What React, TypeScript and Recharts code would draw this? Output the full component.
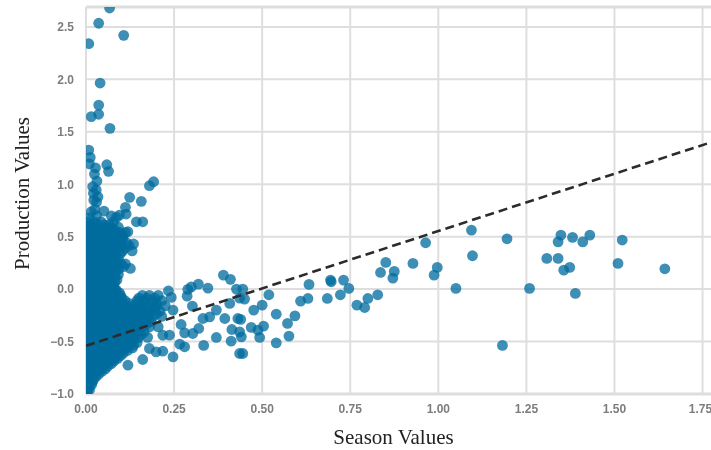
import React from "react";
import {
  CartesianGrid,
  Label,
  ReferenceLine,
  Scatter,
  ScatterChart,
  XAxis,
  YAxis,
} from "recharts";

const xTicks = [0, 0.25, 0.5, 0.75, 1, 1.25, 1.5, 1.75];
const yTicks = [-1, -0.5, 0, 0.5, 1, 1.5, 2, 2.5];
const xMax = 1.774;
const yMax = 2.69;
const xTitle = "Season Values";
const yTitle = "Production Values";

const fitLine = [
  { x: 0, y: -0.54 },
  { x: 1.774, y: 1.4 },
];

const outlierPairs: number[][] = [
  [0.067, 2.68], [0.036, 2.535], [0.107, 2.42], [0.008, 2.34], [0.04, 1.965], [0.036, 1.755],
  [0.036, 1.667], [0.015, 1.645], [0.068, 1.533], [0.008, 1.326], [0.012, 1.256], [0.01, 1.193],
  [0.027, 1.157], [0.059, 1.186], [0.064, 1.123], [0.024, 1.097], [0.031, 1.03], [0.192, 1.024],
  [0.18, 0.986], [0.019, 0.976], [0.029, 0.945], [0.021, 0.913], [0.034, 0.881], [0.124, 0.875],
  [0.157, 0.837], [0.022, 0.849], [0.03, 0.83], [0.112, 0.78], [0.015, 0.738], [0.051, 0.744],
  [0.114, 0.716], [0.072, 0.697], [0.095, 0.706], [0.086, 0.684], [0.161, 0.642], [0.143, 0.642],
  [0.025, 0.76], [0.03, 0.7], [0.01, 0.68], [0.119, 0.547], [0.135, 0.43], [0.131, 0.365], [0.126, 0.197],
];

const midPairs: number[][] = [
  [0.39, 0.134], [0.41, 0.093], [0.319, 0.048], [0.299, 0.022], [0.346, 0.01], [0.234, -0.016],
  [0.289, -0.003], [0.287, -0.067], [0.242, -0.079], [0.427, 0], [0.408, -0.136], [0.436, -0.086],
  [0.302, -0.162], [0.247, -0.2], [0.37, -0.2], [0.351, -0.264], [0.332, -0.28], [0.394, -0.28],
  [0.431, -0.28], [0.27, -0.337], [0.32, -0.375], [0.414, -0.385], [0.436, -0.407], [0.303, -0.423],
  [0.28, -0.417], [0.237, -0.439], [0.218, -0.44], [0.37, -0.461], [0.412, -0.496], [0.266, -0.525],
  [0.334, -0.537], [0.28, -0.55], [0.247, -0.646], [0.218, -0.592], [0.199, -0.598], [0.18, -0.566],
  [0.161, -0.671], [0.119, -0.725], [0.436, -0.614], [0.445, 0], [0.45, -0.095], [0.519, -0.054],
  [0.5, -0.153], [0.476, -0.2], [0.54, -0.239], [0.593, -0.255], [0.572, -0.327], [0.504, -0.353],
  [0.469, -0.365], [0.488, -0.391], [0.439, -0.289], [0.441, -0.455], [0.493, -0.461], [0.576, -0.448],
  [0.54, -0.512], [0.445, -0.614], [0.633, 0.045], [0.63, -0.089], [0.609, -0.115], [0.685, -0.089],
  [0.694, 0.086], [0.696, 0.07], [0.731, 0.086], [0.746, 0.007], [0.722, -0.054], [0.769, -0.153],
  [0.791, -0.175], [0.8, -0.089], [0.828, -0.054], [0.836, 0.159], [0.851, 0.255], [0.875, 0.169],
  [0.871, 0.105], [0.928, 0.245], [0.964, 0.442], [0.997, 0.207], [0.988, 0.134], [1.05, 0.007],
  [1.094, 0.563], [1.097, 0.318], [1.195, 0.48], [1.182, -0.537], [1.259, 0.007], [1.308, 0.293],
  [1.34, 0.293], [1.34, 0.451], [1.348, 0.515], [1.381, 0.493], [1.41, 0.451], [1.43, 0.515],
  [1.373, 0.207], [1.356, 0.181], [1.389, -0.041], [1.51, 0.245], [1.522, 0.468], [1.643, 0.194],
];

const denseRows: [number, number[]][] = [
  [0.64, [0.006, 0.024, 0.043, 0.078]],
  [0.59, [0.004, 0.02, 0.036, 0.053, 0.07, 0.092]],
  [0.54, [0.008, 0.024, 0.041, 0.06, 0.078, 0.096, 0.112]],
  [0.49, [0.003, 0.019, 0.035, 0.052, 0.07, 0.088, 0.105]],
  [0.44, [0.007, 0.025, 0.043, 0.061, 0.079, 0.097, 0.116]],
  [0.39, [0.004, 0.02, 0.036, 0.054, 0.072, 0.09, 0.11]],
  [0.34, [0.008, 0.026, 0.044, 0.062, 0.08, 0.098]],
  [0.29, [0.003, 0.019, 0.037, 0.055, 0.073, 0.092]],
  [0.24, [0.007, 0.025, 0.043, 0.061, 0.08, 0.1, 0.112]],
  [0.19, [0.004, 0.02, 0.038, 0.056, 0.074, 0.093]],
  [0.14, [0.008, 0.026, 0.044, 0.062, 0.08, 0.092]],
  [0.09, [0.003, 0.021, 0.039, 0.057, 0.075, 0.088]],
  [0.04, [0.007, 0.025, 0.043, 0.061, 0.078]],
  [-0.01, [0.004, 0.02, 0.038, 0.056, 0.074, 0.086]],
  [-0.06, [0.008, 0.026, 0.044, 0.062, 0.08, 0.098, 0.16, 0.18, 0.205]],
  [-0.11, [0.003, 0.021, 0.039, 0.057, 0.075, 0.093, 0.11, 0.145, 0.165, 0.19, 0.215]],
  [-0.16, [0.007, 0.025, 0.043, 0.061, 0.079, 0.097, 0.115, 0.133, 0.155, 0.178, 0.2, 0.225]],
  [-0.21, [0.004, 0.02, 0.038, 0.056, 0.074, 0.092, 0.11, 0.128, 0.146, 0.165, 0.185, 0.21]],
  [-0.26, [0.008, 0.026, 0.044, 0.062, 0.08, 0.098, 0.116, 0.134, 0.152, 0.17, 0.19, 0.215]],
  [-0.31, [0.003, 0.021, 0.039, 0.057, 0.075, 0.093, 0.111, 0.129, 0.147, 0.165, 0.185]],
  [-0.36, [0.007, 0.025, 0.043, 0.061, 0.079, 0.097, 0.115, 0.133, 0.151, 0.18, 0.205]],
  [-0.41, [0.004, 0.02, 0.038, 0.056, 0.074, 0.092, 0.11, 0.128, 0.146, 0.165]],
  [-0.46, [0.008, 0.026, 0.044, 0.062, 0.08, 0.098, 0.116, 0.134, 0.15, 0.175]],
  [-0.51, [0.003, 0.021, 0.039, 0.057, 0.075, 0.093, 0.111, 0.128, 0.145]],
  [-0.56, [0.007, 0.025, 0.043, 0.061, 0.079, 0.097, 0.115, 0.132]],
  [-0.61, [0.004, 0.02, 0.038, 0.056, 0.074, 0.092, 0.106]],
  [-0.66, [0.008, 0.026, 0.044, 0.062, 0.08, 0.09]],
  [-0.71, [0.003, 0.021, 0.039, 0.057, 0.072]],
  [-0.76, [0.007, 0.025, 0.043, 0.055]],
  [-0.81, [0.004, 0.02, 0.036]],
  [-0.86, [0.006, 0.022]],
  [-0.91, [0.003, 0.016]],
  [-0.96, [0.005, 0.01]],
  [-0.99, [0.002]],
];

const fillRows: [number, number[]][] = [
  [0.615, [0.014, 0.033, 0.051, 0.066]],
  [0.565, [0.012, 0.028, 0.045, 0.062, 0.081]],
  [0.515, [0.012, 0.03, 0.05, 0.069, 0.087, 0.104]],
  [0.465, [0.013, 0.03, 0.047, 0.066, 0.084, 0.102]],
  [0.415, [0.012, 0.029, 0.047, 0.063, 0.082, 0.1, 0.122]],
  [0.365, [0.013, 0.03, 0.05, 0.067, 0.085, 0.104]],
  [0.315, [0.012, 0.028, 0.047, 0.065, 0.083]],
  [0.265, [0.012, 0.031, 0.05, 0.068, 0.086]],
  [0.215, [0.013, 0.03, 0.048, 0.066, 0.085, 0.106]],
  [0.165, [0.012, 0.029, 0.047, 0.065, 0.084]],
  [0.115, [0.012, 0.03, 0.048, 0.066, 0.082]],
  [0.065, [0.013, 0.031, 0.05, 0.068, 0.082]],
  [0.015, [0.012, 0.029, 0.047, 0.065, 0.08]],
  [-0.035, [0.012, 0.03, 0.049, 0.067, 0.084, 0.095]],
  [-0.085, [0.013, 0.03, 0.048, 0.066, 0.084, 0.102, 0.15, 0.172, 0.195]],
  [-0.135, [0.012, 0.03, 0.048, 0.066, 0.084, 0.102, 0.122, 0.145, 0.168, 0.2]],
  [-0.185, [0.012, 0.029, 0.047, 0.065, 0.083, 0.101, 0.119, 0.137, 0.156, 0.176, 0.196]],
  [-0.235, [0.013, 0.03, 0.048, 0.066, 0.084, 0.102, 0.12, 0.138, 0.157, 0.178, 0.2]],
  [-0.285, [0.012, 0.03, 0.048, 0.066, 0.084, 0.102, 0.12, 0.138, 0.157, 0.178]],
  [-0.335, [0.012, 0.029, 0.047, 0.065, 0.083, 0.101, 0.119, 0.137, 0.155, 0.172]],
  [-0.385, [0.013, 0.03, 0.048, 0.066, 0.084, 0.102, 0.12, 0.138, 0.156]],
  [-0.435, [0.012, 0.03, 0.048, 0.066, 0.084, 0.102, 0.12, 0.138, 0.156]],
  [-0.485, [0.012, 0.029, 0.047, 0.065, 0.083, 0.101, 0.119, 0.137]],
  [-0.535, [0.013, 0.03, 0.048, 0.066, 0.084, 0.102, 0.12, 0.135]],
  [-0.585, [0.012, 0.03, 0.048, 0.066, 0.084, 0.102, 0.118]],
  [-0.635, [0.012, 0.029, 0.047, 0.065, 0.083, 0.098]],
  [-0.685, [0.013, 0.03, 0.048, 0.066, 0.08]],
  [-0.735, [0.012, 0.03, 0.048, 0.062]],
  [-0.785, [0.012, 0.029, 0.045]],
  [-0.835, [0.011, 0.028]],
  [-0.885, [0.009, 0.018]],
  [-0.935, [0.008]],
];

const pointTable = [
  ...outlierPairs,
  ...midPairs,
  ...denseRows.flatMap(([y, xs]) => xs.map((x) => [x, y])),
  ...fillRows.flatMap(([y, xs]) => xs.map((x) => [x, y])),
].map(([x, y]) => ({ x, y }));

const tickStyle = { fill: "#7d7d7d", fontSize: 12, fontWeight: 700, fontFamily: "'Liberation Sans', Arial, sans-serif" };
const titleStyle = { fill: "#222222", fontSize: 21, fontFamily: "'Liberation Serif', 'Times New Roman', serif" };

const Dot = (p: any) => <circle cx={p.cx} cy={p.cy} r={5.4} fill="#006c9e" fillOpacity={0.76} />;

export default function App() {
  return (
    <div style={{ position: "absolute", left: 0, top: 0, width: 711, height: 450, background: "#fff", filter: "blur(0.7px)" }}>
      <ScatterChart width={711} height={450} margin={{ top: 7, right: 0, bottom: 0, left: 0 }}>
        <CartesianGrid stroke="#dedede" strokeWidth={2} syncWithTicks />
        <XAxis
          type="number"
          dataKey="x"
          domain={[0, xMax]}
          ticks={xTicks}
          allowDataOverflow
          height={56}
          tickLine={false}
          axisLine={{ stroke: "#dedede", strokeWidth: 3 }}
          tick={tickStyle}
          tickFormatter={(v: number) => v.toFixed(2)}
          tickMargin={4}
        >
          <Label value={xTitle} position="insideBottom" offset={6} dx={-5} style={titleStyle} />
        </XAxis>
        <YAxis
          type="number"
          dataKey="y"
          domain={[-1, yMax]}
          ticks={yTicks}
          allowDataOverflow
          width={86}
          tickLine={false}
          axisLine={{ stroke: "#dedede", strokeWidth: 2 }}
          tick={tickStyle}
          tickFormatter={(v: number) => v.toFixed(1).replace("-", "\u2212")}
          tickMargin={6}
        >
          <Label value={yTitle} angle={-90} position="insideLeft" offset={22} dy={-7} style={{ ...titleStyle, textAnchor: "middle" }} />
        </YAxis>
        <ReferenceLine y={yMax} stroke="#dedede" strokeWidth={3} />
        <Scatter data={pointTable} shape={Dot} isAnimationActive={false} />
        <Scatter
          data={fitLine}
          line={{ stroke: "#2b2b2b", strokeWidth: 2.6, strokeDasharray: "9 5" }}
          shape={() => null}
          isAnimationActive={false}
        />
      </ScatterChart>
    </div>
  );
}
